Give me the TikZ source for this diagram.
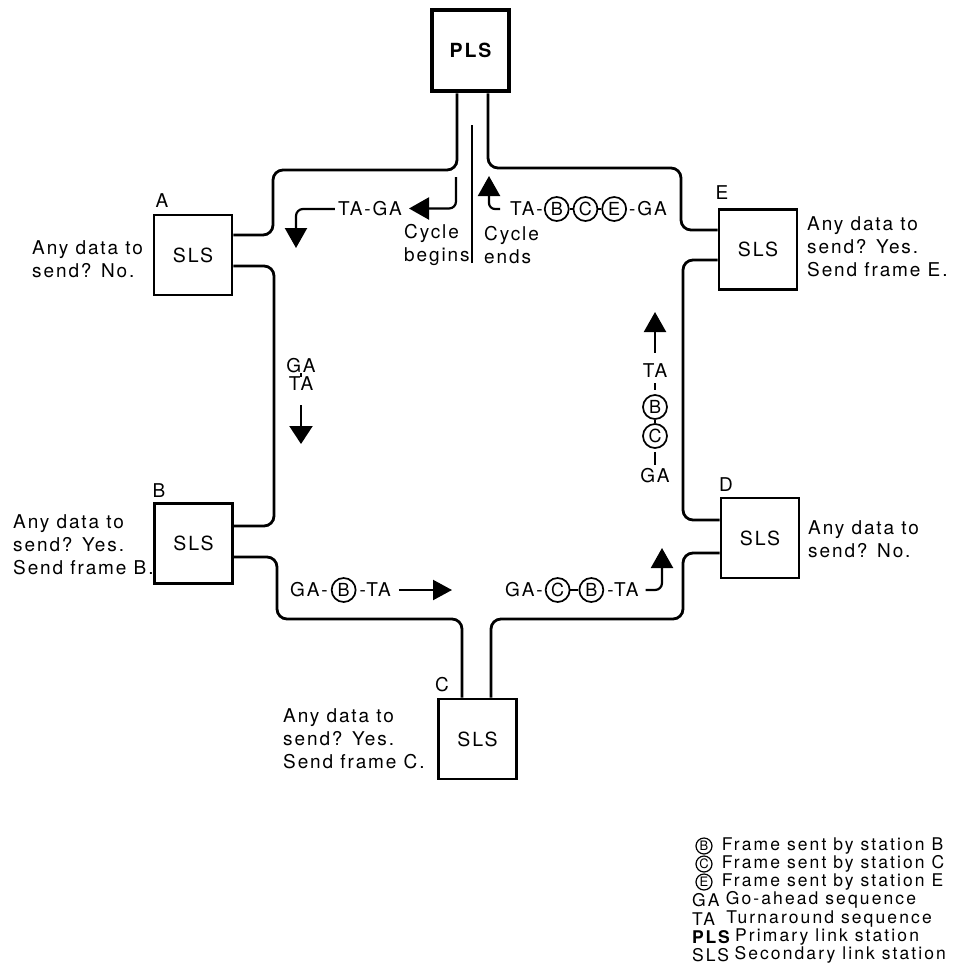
\documentclass[tikz,border=0pt]{standalone}
\usepackage{fontspec}
\setmainfont{TeX Gyre Heros}[LetterSpace=10]
\usetikzlibrary{arrows.meta,positioning}
\tikzset{
  ring/.style={line width=2.8pt, rounded corners=10pt},
  slsbox/.style={draw, line width=2.8pt, minimum width=78pt, minimum height=80pt, inner sep=0pt, font=\fontsize{19.5pt}{23pt}\selectfont},
  plsbox/.style={draw, line width=4.8pt, minimum width=77pt, minimum height=81pt, inner sep=0pt, font=\fontsize{19.5pt}{23pt}\selectfont\bfseries},
  txt/.style={inner sep=0pt, align=left, font=\fontsize{19pt}{23pt}\selectfont},
  circ/.style={draw, circle, line width=1.7pt, minimum size=24pt, inner sep=0pt, font=\fontsize{18pt}{18pt}\selectfont},
  lcirc/.style={draw, circle, line width=1.2pt, minimum size=16pt, inner sep=0pt, font=\fontsize{13pt}{13pt}\selectfont},
  leg/.style={inner sep=0pt, anchor=west, font=\fontsize{17.5pt}{18pt}\selectfont\addfontfeature{LetterSpace=12}},
  link/.style={line width=1.6pt},
  arr/.style={line width=2.2pt, rounded corners=7pt, -{Triangle[length=20pt,width=22pt]}},
}
\begin{document}
\begin{tikzpicture}[x=1pt,y=-1pt]
\useasboundingbox (0,0) rectangle (959,970);

% stations
\node[plsbox] (pls) at (470.5,50.5) {PLS};
\node[slsbox] (A) at (193,255) {SLS};
\node[slsbox] (B) at (193.5,543.5) {SLS};
\node[slsbox] (C) at (477.5,739) {SLS};
\node[slsbox] (D) at (760,538) {SLS};
\node[slsbox] (E) at (758,249.5) {SLS};

% station letters
\node[txt] (lA) at (162,201) {A};
\node[txt] (lB) at (159,491) {B};
\node[txt] (lC) at (442,685) {C};
\node[txt] (lD) at (726,485) {D};
\node[txt] (lE) at (722,193) {E};

% station questions
\node[txt, anchor=west] (qA) at (32,259) {Any data to\\send? No.};
\node[txt, anchor=west] (qB) at (13,545) {Any data to\\send? Yes.\\Send frame B.};
\node[txt, anchor=west] (qC) at (283,739) {Any data to\\send? Yes.\\Send frame C.};
\node[txt, anchor=west] (qD) at (808,539) {Any data to\\send? No.};
\node[txt, anchor=west] (qE) at (807,247) {Any data to\\send? Yes.\\Send frame E.};

% ring lines
\draw[ring] (pls.south -| 457,0) -- (457,170) -- (273,170) -- (273,235) -- (A.east |- 0,235);
\draw[ring] (A.east |- 0,266) -- (274,266) -- (274,526) -- (B.east |- 0,526);
\draw[ring] (B.east |- 0,557) -- (277,557) -- (277,619) -- (462,619) -- (C.north -| 462,0);
\draw[ring] (C.north -| 491,0) -- (491,619) -- (683,619) -- (683,553) -- (D.west |- 0,553);
\draw[ring] (D.west |- 0,520) -- (683,520) -- (683,260) -- (E.west |- 0,260);
\draw[ring] (E.west |- 0,230) -- (681,230) -- (681,168) -- (488,168) -- (pls.south -| 488,0);

% centre divider
\coordinate (ctop) at (472,125);
\coordinate (cbot) at (472,263);
\draw[line width=2.2pt] (ctop) -- (cbot);

% cycle begins / ends
\node[txt, anchor=west] (cbeg) at (404,245) {Cycle\\begins};
\node[txt, anchor=west] (cend) at (484,245) {Cycle\\ends};
\coordinate (cb1) at (456,177);
\coordinate (cbe) at (409,208.5);
\draw[arr] (cb1) |- (cbe);

% TA-GA going to A
\node[txt, anchor=east] (taga) at (402,209) {TA-GA};
\coordinate (a2e) at (296,248);
\draw[arr] ([xshift=-3pt]taga.west) -| (a2e);

% TA-B-C-E-GA returning to PLS
\node[txt, anchor=west] (tr1) at (510,209) {TA-};
\node[circ, right=1pt of tr1] (trB) {B};
\node[circ, right=3pt of trB] (trC) {C};
\node[circ, right=3pt of trC] (trE) {E};
\node[txt, right=2pt of trE] (tr5) {-GA};
\draw[link] (trB) -- (trC);
\draw[link] (trC) -- (trE);
\coordinate (ce) at (489,176);
\draw[arr, rounded corners=6pt] ([xshift=-10pt]tr1.west) -| (ce);

% GA / TA going down from A to B
\node[txt] (gaL) at (301,366) {GA};
\node[txt] (taL) at (301,384) {TA};
\draw[link] (gaL) -- (taL);
\coordinate (lae) at (301,444);
\draw[arr, -{Triangle[length=18pt,width=23pt]}] ([yshift=-14pt]taL.south) -- (lae);

% GA-B-TA from B to C
\node[txt, anchor=west] (bl1) at (290,590) {GA-};
\node[circ, right=3pt of bl1] (blB) {B};
\node[txt, right=3pt of blB] (bl3) {-TA};
\coordinate (ble) at (452,590);
\draw[arr, -{Triangle[length=19pt,width=20pt]}] ([xshift=8pt]bl3.east) -- (ble);

% GA-C-B-TA from C to D
\node[txt, anchor=west] (br1) at (505,590) {GA-};
\node[circ, right=2pt of br1] (brC) {C};
\node[circ, right=8pt of brC] (brB) {B};
\node[txt, right=3pt of brB] (br4) {-TA};
\draw[link] (brC) -- (brB);
\coordinate (bre) at (662,548);
\draw[arr] ([xshift=7pt]br4.east) -| (bre);

% GA-C-B-TA from D to E (vertical)
\node[txt] (vTA) at (655,371) {TA};
\node[circ] (vB) at (655,407) {B};
\node[circ] (vC) at (655,436) {C};
\node[txt] (vGA) at (655,476) {GA};
\draw[link, shorten <=5pt, shorten >=4pt] (vTA) -- (vB);
\draw[link] (vB) -- (vC);
\draw[link, shorten <=3pt, shorten >=4pt] (vC) -- (vGA);
\coordinate (vae) at (655,312);
\draw[arr] ([yshift=11pt]vTA.north) -- (vae);

% legend
\node[lcirc] (kB) at (704,846) {B};
\node[leg, right=9pt of kB] (kBt) {Frame sent by station B};
\node[lcirc] (kC) at (704,864) {C};
\node[leg, right=9pt of kC] (kCt) {Frame sent by station C};
\node[lcirc] (kE) at (704,882) {E};
\node[leg, right=9pt of kE] (kEt) {Frame sent by station E};
\node[leg] (kGA) at (692,900) {GA};
\node[leg, right=6pt of kGA] (kGAt) {Go-ahead sequence};
\node[leg] (kTA) at (692,919) {TA};
\node[leg, right=11pt of kTA] (kTAt) {Turnaround sequence};
\node[leg, font=\fontsize{17.5pt}{18pt}\selectfont\bfseries] (kPLS) at (692,937) {PLS};
\node[leg, right=5pt of kPLS] (kPLSt) {Primary link station};
\node[leg] (kSLS) at (692,955) {SLS};
\node[leg, right=5pt of kSLS] (kSLSt) {Secondary link station};
\end{tikzpicture}
\end{document}
